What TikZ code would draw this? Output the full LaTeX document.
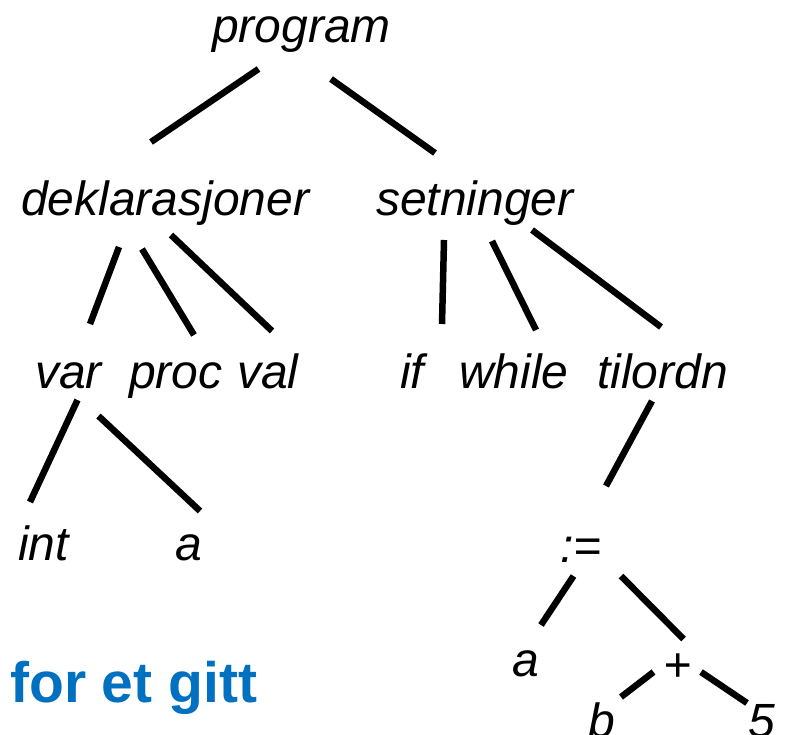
\documentclass[tikz,border=0pt]{standalone}
\usepackage{fontspec}
\setmainfont{Liberation Sans}
\usetikzlibrary{calc}
\definecolor{titleblue}{RGB}{0,112,192}
\begin{document}
\begin{tikzpicture}[x=1pt,y=-1pt,
  lbl/.style={anchor=base west,inner sep=0pt,font=\fontsize{48}{50}\selectfont\itshape},
  title/.style={anchor=base west,inner sep=0pt,text=titleblue,font=\fontsize{57}{60}\selectfont\bfseries},
  edge/.style={line width=6.5pt}]
\useasboundingbox (0,0) rectangle (786,735);
% nodes
\node[lbl] (program) at (212,43) {program};
\node[lbl] (dekl) at (21,216) {deklarasjoner};
\node[lbl] (setn) at (376,216) {setninger};
\node[lbl] (var) at (35,388) {var};
\node[lbl] (proc) at (129,388) {proc};
\node[lbl] (val) at (237,388) {val};
\node[lbl] (if) at (400,388) {if};
\node[lbl] (while) at (459,388) {while};
\node[lbl] (tilordn) at (597,388) {tilordn};
\node[lbl] (int) at (18,560) {int};
\node[lbl] (a1) at (175,560) {a};
\node[lbl] (assign) at (560,562) {:=};
\node[lbl] (a2) at (512,676) {a};
\node[lbl] (plus) at (663,681) {+};
\node[lbl] (b) at (588,737) {b};
\node[lbl] (five) at (748,737) {5};
\node[title] (caption) at (10,702) {for et gitt};
% connectors
\draw[edge] ($(program.base west)+(46.5,26)$) -- ($(dekl.base west)+(130,-74)$);
\draw[edge] ($(program.base west)+(119,36)$) -- ($(setn.base west)+(59,-63)$);
\draw[edge] ($(dekl.base west)+(98,31)$) -- ($(var.base west)+(55,-64)$);
\draw[edge] ($(dekl.base west)+(121,33)$) -- ($(proc.base west)+(65,-53)$);
\draw[edge] ($(dekl.base west)+(150,19)$) -- ($(val.base west)+(35,-57)$);
\draw[edge] ($(setn.base west)+(68,24)$) -- ($(if.base west)+(42,-64)$);
\draw[edge] ($(setn.base west)+(116,25)$) -- ($(while.base west)+(77,-58)$);
\draw[edge] ($(setn.base west)+(156,14)$) -- ($(tilordn.base west)+(64,-61)$);
\draw[edge] ($(var.base west)+(42.5,12)$) -- ($(int.base west)+(12,-58)$);
\draw[edge] ($(var.base west)+(63.5,28)$) -- ($(a1.base west)+(25,-49)$);
\draw[edge] ($(tilordn.base west)+(55,13)$) -- ($(assign.base west)+(46,-76)$);
\draw[edge] ($(assign.base west)+(13.5,14)$) -- ($(a2.base west)+(29,-51)$);
\draw[edge] ($(assign.base west)+(61,14)$) -- ($(plus.base west)+(20.5,-42)$);
\draw[edge] ($(plus.base west)+(-9.5,-9)$) -- ($(b.base west)+(33,-40)$);
\draw[edge] ($(plus.base west)+(38,-9)$) -- ($(five.base west)+(-1,-34)$);
\end{tikzpicture}
\end{document}
